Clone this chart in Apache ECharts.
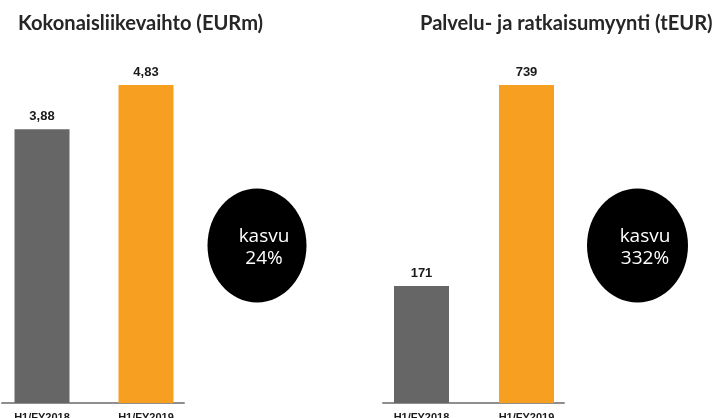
<!DOCTYPE html>
<html>
<head>
<meta charset="utf-8">
<script src="https://cdn.jsdelivr.net/npm/echarts@6/dist/echarts.min.js"></script>
<style>
  html, body { margin: 0; padding: 0; background: #fff; }
  #chart { width: 715px; height: 418px; }
</style>
</head>
<body>
<div id="chart"></div>
<script>
var periods = ['H1/FY2018', 'H1/FY2019'];
var revenue = [3.88, 4.83];       // EURm
var services = [171, 739];        // tEUR
var titles = ['Kokonaisliikevaihto (EURm)', 'Palvelu- ja ratkaisumyynti (tEUR)'];
var growthWord = 'kasvu';
var growth = ['24%', '332%'];

var barColors = ['#666666', '#F79F21'];
var labelFont = '"Liberation Sans", Arial, sans-serif';

var chart = echarts.init(document.getElementById('chart'));

function hiddenAxis(grid) {
    return {
        gridIndex: grid,
        show: false,
        splitLine: { show: false }
    };
}

function lineAxis(grid) {
    return {
        type: 'value',
        gridIndex: grid,
        axisLine: { show: true, lineStyle: { color: '#8e8e8e', width: 2 } },
        axisTick: { show: false },
        axisLabel: { show: false },
        splitLine: { show: false }
    };
}

function catAxis(grid) {
    return {
        type: 'category', gridIndex: grid, data: periods,
        axisLine: { show: false }, axisTick: { show: false },
        axisLabel: { margin: 9, color: '#1a1a1a', fontFamily: labelFont, fontWeight: 'bold', fontSize: 11 }
    };
}

function barSeries(idx, values, fmt) {
    return {
        type: 'bar',
        xAxisIndex: idx,
        yAxisIndex: idx,
        data: values,
        barWidth: 55,
        itemStyle: {
            color: function (p) { return barColors[p.dataIndex]; }
        },
        label: {
            show: true,
            position: 'top',
            distance: 6,
            formatter: function (p) { return fmt(p.value); },
            color: '#1a1a1a',
            fontFamily: labelFont,
            fontWeight: 'bold',
            fontSize: 13
        }
    };
}

function textCircle(x, label) {
    return {
        type: 'text', x: x, y: 248,
        style: {
            text: growthWord + '\n' + label, fill: '#fff',
            fontFamily: '"Open Sans"', fontSize: 19, lineHeight: 22,
            align: 'center', verticalAlign: 'middle'
        }
    };
}

var titleStyle = { fontFamily: 'Lato', fontWeight: 'bold', fontSize: 20.1, color: '#262626' };

var option = {
    animation: false,
    title: [
        { text: titles[0], left: 13, top: 9, textStyle: titleStyle },
        { text: titles[1], left: 415, top: 9, textStyle: titleStyle }
    ],
    grid: [
        { left: -10, width: 208, top: 60, bottom: 15, outerBoundsMode: 'none' },
        { left: 369, width: 210, top: 60, bottom: 15, outerBoundsMode: 'none' },
        { left: 2, width: 182, top: 60, bottom: 15, outerBoundsMode: 'none' },
        { left: 383, width: 181, top: 60, bottom: 15, outerBoundsMode: 'none' }
    ],
    xAxis: [catAxis(0), catAxis(1), lineAxis(2), lineAxis(3)],
    yAxis: [
        Object.assign(hiddenAxis(0), { type: 'log', logBase: 10, min: 1, max: 5.466 }),
        Object.assign(hiddenAxis(1), { type: 'log', logBase: 10, min: 72.9, max: 886.6 }),
        Object.assign(hiddenAxis(2), { type: 'value' }),
        Object.assign(hiddenAxis(3), { type: 'value' })
    ],
    series: [
        barSeries(0, revenue, function (v) { return v.toFixed(2).replace('.', ','); }),
        barSeries(1, services, function (v) { return String(v); })
    ],
    graphic: [
        { type: 'ellipse', shape: { cx: 257, cy: 245.5, rx: 49.5, ry: 57 }, style: { fill: '#000' } },
        { type: 'ellipse', shape: { cx: 637.5, cy: 245.5, rx: 50.5, ry: 57 }, style: { fill: '#000' } },
        textCircle(264, growth[0]),
        textCircle(645, growth[1])
    ]
};

chart.setOption(option);
</script>
</body>
</html>
